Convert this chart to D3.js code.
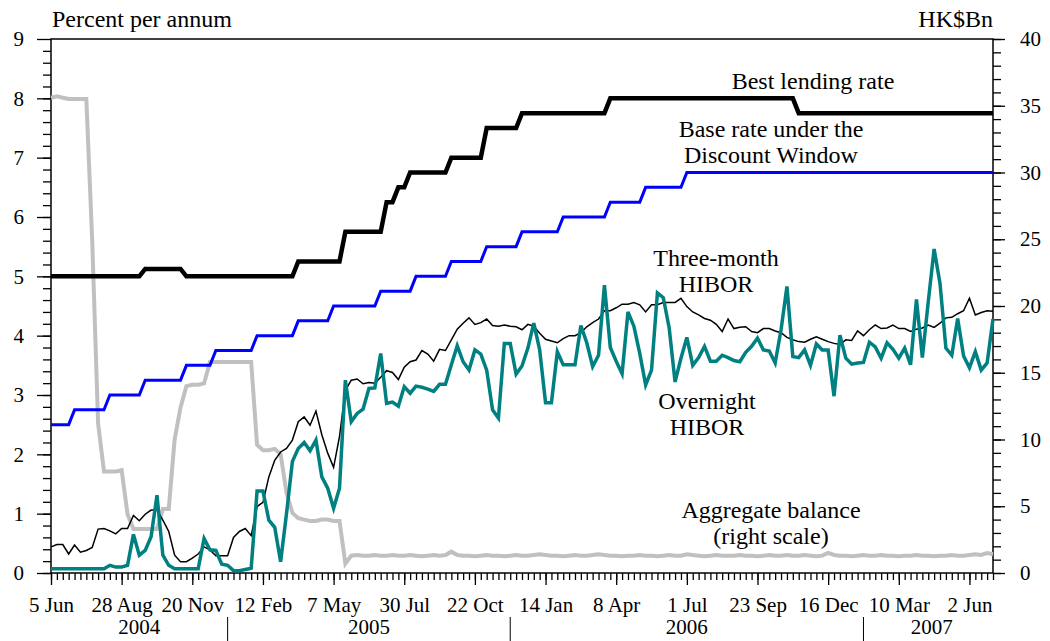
<!DOCTYPE html>
<html lang="en">
<head>
<meta charset="UTF-8">
<title>Interest rates and aggregate balance</title>
<script src="https://d3js.org/d3.v7.min.js"></script>
<style>
  body { margin: 0; background: #fff; }
  svg { display: block; font-family: "Liberation Serif", "Times New Roman", serif; }
  svg text { font-family: "Liberation Serif", "Times New Roman", serif !important; fill: #000; }
</style>
</head>
<body>
<svg width="1050" height="641"></svg>
<script>
// weekly observations, first week ending 5 Jun 2004
const firstWeek = "2004-06-05";

// percent per annum
const bestLending = [
  5,5,5,5,5,5,5,5,5,5,
  5,5,5,5,5,5,5.125,5.125,5.125,5.125,
  5.125,5.125,5.125,5,5,5,5,5,5,5,
  5,5,5,5,5,5,5,5,5,5,
  5,5,5.25,5.25,5.25,5.25,5.25,5.25,5.25,5.25,
  5.75,5.75,5.75,5.75,5.75,5.75,5.75,6.25,6.25,6.5,
  6.5,6.75,6.75,6.75,6.75,6.75,6.75,6.75,7,7,
  7,7,7,7,7.5,7.5,7.5,7.5,7.5,7.5,
  7.75,7.75,7.75,7.75,7.75,7.75,7.75,7.75,7.75,7.75,
  7.75,7.75,7.75,7.75,7.75,8,8,8,8,8,
  8,8,8,8,8,8,8,8,8,8,
  8,8,8,8,8,8,8,8,8,8,
  8,8,8,8,8,8,8,7.75,7.75,7.75,
  7.75,7.75,7.75,7.75,7.75,7.75,7.75,7.75,7.75,7.75,
  7.75,7.75,7.75,7.75,7.75,7.75,7.75,7.75,7.75,7.75,
  7.75,7.75,7.75,7.75,7.75,7.75,7.75,7.75,7.75,7.75,
  7.75
];

const baseRate = [
  2.5,2.5,2.5,2.5,2.75,2.75,2.75,2.75,2.75,2.75,
  3,3,3,3,3,3,3.25,3.25,3.25,3.25,
  3.25,3.25,3.25,3.5,3.5,3.5,3.5,3.5,3.75,3.75,
  3.75,3.75,3.75,3.75,3.75,4,4,4,4,4,
  4,4,4.25,4.25,4.25,4.25,4.25,4.25,4.5,4.5,
  4.5,4.5,4.5,4.5,4.5,4.5,4.75,4.75,4.75,4.75,
  4.75,4.75,5,5,5,5,5,5,5.25,5.25,
  5.25,5.25,5.25,5.25,5.5,5.5,5.5,5.5,5.5,5.5,
  5.75,5.75,5.75,5.75,5.75,5.75,5.75,6,6,6,
  6,6,6,6,6,6.25,6.25,6.25,6.25,6.25,
  6.25,6.5,6.5,6.5,6.5,6.5,6.5,6.5,6.75,6.75,
  6.75,6.75,6.75,6.75,6.75,6.75,6.75,6.75,6.75,6.75,
  6.75,6.75,6.75,6.75,6.75,6.75,6.75,6.75,6.75,6.75,
  6.75,6.75,6.75,6.75,6.75,6.75,6.75,6.75,6.75,6.75,
  6.75,6.75,6.75,6.75,6.75,6.75,6.75,6.75,6.75,6.75,
  6.75,6.75,6.75,6.75,6.75,6.75,6.75,6.75,6.75,6.75,
  6.75
];

const threeMonthHibor = [
  0.44,0.48,0.48,0.32,0.47,0.35,0.38,0.43,0.74,0.75,
  0.71,0.66,0.75,0.75,0.97,0.88,0.99,1.06,1.06,0.89,
  0.70,0.30,0.19,0.19,0.25,0.32,0.44,0.39,0.29,0.29,
  0.29,0.60,0.70,0.75,0.63,1.12,1.19,1.62,1.90,2.04,
  2.10,2.24,2.55,2.63,2.49,2.73,2.33,2.02,1.78,2.30,
  3.08,3.25,3.27,3.19,3.21,3.20,3.30,3.41,3.38,3.26,
  3.47,3.56,3.59,3.75,3.69,3.57,3.77,3.75,3.93,4.11,
  4.21,4.30,4.19,4.22,4.28,4.17,4.16,4.18,4.16,4.15,
  4.10,4.19,4.16,4.04,3.94,3.91,3.88,3.95,4.00,4.00,
  4.05,4.15,4.22,4.28,4.42,4.42,4.47,4.53,4.53,4.56,
  4.52,4.40,4.52,4.52,4.56,4.56,4.56,4.63,4.49,4.40,
  4.35,4.29,4.26,4.19,4.07,4.28,4.12,4.14,4.15,4.07,
  4.05,4.12,4.12,4.08,4.05,3.97,3.93,3.90,3.89,3.94,
  3.98,3.94,3.90,3.87,3.85,3.93,3.92,4.08,4.00,4.10,
  4.18,4.12,4.13,4.18,4.12,4.12,4.07,4.11,4.13,4.18,
  4.14,4.21,4.30,4.31,4.37,4.42,4.63,4.35,4.39,4.42,
  4.41
];

const overnightHibor = [
  0.07,0.07,0.07,0.07,0.07,0.07,0.07,0.07,0.07,0.07,
  0.13,0.10,0.10,0.13,0.65,0.30,0.38,0.61,1.31,0.30,
  0.13,0.07,0.07,0.07,0.07,0.07,0.58,0.39,0.38,0.15,
  0.13,0.04,0.04,0.06,0.08,1.38,1.38,0.89,0.77,0.19,
  1.00,1.88,2.10,2.20,2.06,2.24,1.62,1.43,1.09,1.43,
  3.25,2.55,2.69,2.76,3.11,3.12,3.70,2.86,2.88,2.81,
  3.14,3.03,3.15,3.13,3.10,3.06,3.18,3.18,3.51,3.83,
  3.56,3.42,3.76,3.69,3.42,2.75,2.61,3.87,3.87,3.35,
  3.49,3.79,4.21,3.76,2.87,2.87,3.73,3.51,3.51,3.51,
  4.17,3.88,3.48,3.67,4.85,3.80,3.57,3.36,4.40,4.16,
  3.70,3.17,3.42,4.72,4.64,4.13,3.22,3.62,3.97,3.50,
  3.63,3.82,3.57,3.57,3.67,3.63,3.58,3.56,3.72,3.82,
  3.96,3.76,3.74,3.54,4.10,4.83,3.65,3.63,3.76,3.50,
  3.86,3.76,3.76,2.98,4.01,3.62,3.52,3.54,3.55,3.89,
  3.81,3.62,3.88,3.77,3.62,3.79,3.51,4.61,3.63,4.57,
  5.46,4.88,3.79,3.67,4.29,3.66,3.46,3.73,3.42,3.54,
  4.28
];

// HK$ billion, right scale
const aggregateBalance = [
  35.6,35.7,35.6,35.5,35.5,35.5,35.5,24.9,11.2,7.6,
  7.6,7.6,7.7,4.4,3.3,3.3,3.3,3.3,3.3,4.8,
  4.8,10.0,12.4,14.0,14.1,14.1,14.2,15.8,15.8,15.8,
  15.8,15.8,15.8,15.8,15.8,9.6,9.2,9.2,9.3,8.9,
  6.0,4.5,4.1,4.0,3.9,3.9,4.0,4.0,3.9,3.9,
  0.7,1.3,1.35,1.3,1.3,1.35,1.3,1.3,1.35,1.3,
  1.3,1.35,1.3,1.25,1.3,1.35,1.3,1.35,1.6,1.35,
  1.3,1.3,1.25,1.3,1.35,1.3,1.3,1.25,1.3,1.35,
  1.3,1.3,1.35,1.4,1.35,1.3,1.3,1.25,1.3,1.35,
  1.3,1.3,1.35,1.4,1.35,1.3,1.3,1.25,1.3,1.3,
  1.35,1.3,1.3,1.25,1.3,1.35,1.3,1.3,1.4,1.35,
  1.3,1.25,1.3,1.35,1.3,1.3,1.3,1.35,1.3,1.3,
  1.25,1.3,1.35,1.3,1.3,1.35,1.3,1.3,1.35,1.3,
  1.25,1.3,1.5,1.35,1.3,1.3,1.25,1.3,1.35,1.3,
  1.3,1.35,1.3,1.3,1.25,1.3,1.3,1.35,1.3,1.3,
  1.25,1.3,1.3,1.35,1.3,1.3,1.35,1.4,1.35,1.5,
  1.4
];

const dateLabels = ["5 Jun","28 Aug","20 Nov","12 Feb","7 May","30 Jul","22 Oct",
                    "14 Jan","8 Apr","1 Jul","23 Sep","16 Dec","10 Mar","2 Jun"];
const leftTicks = [0,1,2,3,4,5,6,7,8,9];
const rightTicks = [0,5,10,15,20,25,30,35,40];

const serif = "Liberation Serif, Times New Roman, serif";
const svg = d3.select("svg");
const margin = { left: 51, right: 993, top: 39, bottom: 573 };

const start = d3.utcParse("%Y-%m-%d")(firstWeek);
const dates = d3.range(overnightHibor.length).map(i => d3.utcDay.offset(start, 7 * i));

const x = d3.scaleUtc().domain([dates[0], dates[dates.length - 1]]).range([margin.left, margin.right]);
const yL = d3.scaleLinear().domain([0, 9]).range([margin.bottom, margin.top]);
const yR = d3.scaleLinear().domain([0, 40]).range([margin.bottom, margin.top]);

// frame
svg.append("rect")
   .attr("x", margin.left).attr("y", margin.top)
   .attr("width", margin.right - margin.left).attr("height", margin.bottom - margin.top)
   .attr("fill", "none").attr("stroke", "#000").attr("stroke-width", 1.5);

function styleAxis(g) {
    g.attr("font-family", serif);
    g.select(".domain").remove();
    g.selectAll("line").attr("stroke", "#000").attr("stroke-width", 1.3);
    g.selectAll("text").attr("font-size", 21).attr("font-family", serif).attr("fill", "#000");
}

// left axis
svg.append("g").attr("transform", `translate(${margin.left},0)`)
   .call(d3.axisLeft(yL).tickValues(d3.range(0, 45).map(d => d / 5)).tickSize(8).tickFormat(""))
   .call(styleAxis);
svg.append("g").attr("transform", `translate(${margin.left},0)`)
   .call(d3.axisLeft(yL).tickValues(leftTicks).tickSize(14).tickPadding(13).tickFormat(d3.format("d")))
   .call(styleAxis);

// right axis
svg.append("g").attr("transform", `translate(${margin.right},0)`)
   .call(d3.axisRight(yR).tickValues(d3.range(0, 41)).tickSize(8).tickFormat(""))
   .call(styleAxis);
svg.append("g").attr("transform", `translate(${margin.right},0)`)
   .call(d3.axisRight(yR).tickValues(rightTicks).tickSize(12).tickPadding(15).tickFormat(d3.format("d")))
   .call(styleAxis);

// bottom axis
const majorDates = dates.filter((d, i) => i % 12 === 0);
svg.append("g").attr("transform", `translate(0,${margin.bottom})`)
   .call(d3.axisBottom(x).tickValues(dates).tickSize(7).tickFormat(""))
   .call(styleAxis);
svg.append("g").attr("transform", `translate(0,${margin.bottom})`)
   .call(d3.axisBottom(x).tickValues(majorDates).tickSize(12).tickFormat((d, i) => dateLabels[i]))
   .call(styleAxis)
   .call(g => g.selectAll("text").attr("y", 39).attr("dy", null));

// year separators and labels
const breaks = [];
for (let i = 1; i < majorDates.length; i++) {
    if (majorDates[i].getUTCFullYear() !== majorDates[i - 1].getUTCFullYear()) {
        breaks.push((x(majorDates[i]) + x(majorDates[i - 1])) / 2);
    }
}
const edges = [margin.left].concat(breaks, [margin.right + 7]);
svg.selectAll(".sep").data(breaks).enter().append("line")
   .attr("x1", d => d).attr("x2", d => d).attr("y1", 617).attr("y2", 641)
   .attr("stroke", "#000").attr("stroke-width", 1);
svg.selectAll(".year").data(d3.range(edges.length - 1)).enter().append("text")
   .attr("x", i => (edges[i] + edges[i + 1]) / 2).attr("y", 634)
   .attr("text-anchor", "middle").attr("font-size", 21).attr("font-family", serif)
   .text(i => majorDates.find(d => x(d) > edges[i] - 1 && x(d) < edges[i + 1]).getUTCFullYear());

// series
const lineL = vals => d3.line().x((d, i) => x(dates[i])).y(d => yL(d))(vals);
const lineR = vals => d3.line().x((d, i) => x(dates[i])).y(d => yR(d))(vals);

svg.append("path").attr("d", lineR(aggregateBalance))
   .attr("fill", "none").attr("stroke", "#c0c0c0").attr("stroke-width", 4);
svg.append("path").attr("d", lineL(threeMonthHibor))
   .attr("fill", "none").attr("stroke", "#000").attr("stroke-width", 1.5);
svg.append("path").attr("d", lineL(overnightHibor))
   .attr("fill", "none").attr("stroke", "#008080").attr("stroke-width", 3.5);
svg.append("path").attr("d", lineL(baseRate))
   .attr("fill", "none").attr("stroke", "#0000ff").attr("stroke-width", 3);
svg.append("path").attr("d", lineL(bestLending))
   .attr("fill", "none").attr("stroke", "#000").attr("stroke-width", 4.5);

// axis titles
svg.append("text").attr("x", 52).attr("y", 27).attr("font-size", 24).attr("font-family", serif)
   .text("Percent per annum");
svg.append("text").attr("x", margin.right).attr("y", 27).attr("font-size", 24).attr("font-family", serif)
   .attr("text-anchor", "end").text("HK$Bn");

// series labels
const annotations = [
    { lines: ["Best lending rate"], x: 813, y: 89 },
    { lines: ["Base rate under the", "Discount Window"], x: 771, y: 137 },
    { lines: ["Three-month", "HIBOR"], x: 716, y: 266 },
    { lines: ["Overnight", "HIBOR"], x: 707, y: 409 },
    { lines: ["Aggregate balance", "(right scale)"], x: 771, y: 518 }
];
annotations.forEach(a => {
    const t = svg.append("text").attr("font-size", 24).attr("font-family", serif).attr("text-anchor", "middle");
    a.lines.forEach((s, k) => {
        t.append("tspan").attr("x", a.x).attr("y", a.y + k * 25.5).text(s);
    });
});
</script>
</body>
</html>
